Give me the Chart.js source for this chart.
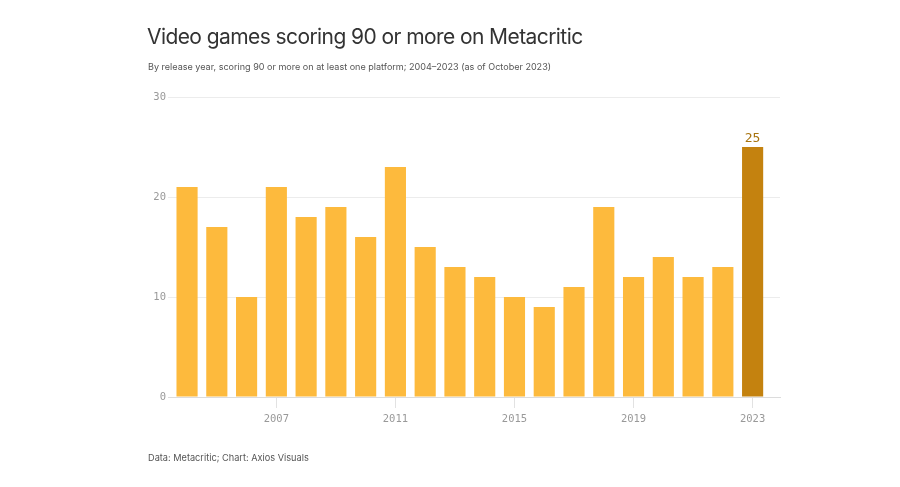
<!DOCTYPE html>
<html>
<head>
<meta charset="utf-8">
<script src="https://cdn.jsdelivr.net/npm/chart.js@4.4.0/dist/chart.umd.min.js"></script>
<style>
  html, body { margin: 0; padding: 0; background: #fff; }
  #wrap { position: relative; width: 900px; height: 487px; overflow: hidden; }
  #c { position: absolute; left: 0; top: 0; }
  .t { position: absolute; font-family: Inter, "Noto Sans", sans-serif; white-space: nowrap; }
  #title { left: 147px; top: 24px; font-size: 21px; color: #333; letter-spacing: -0.58px; }
  #sub { left: 148px; top: 61px; font-size: 9.05px; color: #555; }
  #foot { left: 148px; top: 452px; font-size: 9.2px; color: #555; }
</style>
</head>
<body>
<div id="wrap">
  <canvas id="c" width="900" height="487"></canvas>
  <div class="t" id="title">Video games scoring 90 or more on Metacritic</div>
  <div class="t" id="sub">By release year, scoring 90 or more on at least one platform; 2004–2023 (as of October 2023)</div>
  <div class="t" id="foot">Data: Metacritic; Chart: Axios Visuals</div>
</div>
<script>
const years = [2004,2005,2006,2007,2008,2009,2010,2011,2012,2013,2014,2015,2016,2017,2018,2019,2020,2021,2022,2023];
const games = [21,17,10,21,18,19,16,23,15,13,12,10,9,11,19,12,14,12,13,25];
const xTickYears = [2007,2011,2015,2019,2023];
const yTicks = [0,10,20,30];
const highlightYear = 2023;

const LIGHT = '#FDBA3D';
const DARK = '#C4820F';
const MONO = '"DejaVu Sans Mono", "Liberation Mono", monospace';

const labelPlugin = {
  id: 'hlLabel',
  afterDatasetsDraw(chart) {
    const meta = chart.getDatasetMeta(0);
    const idx = years.indexOf(highlightYear);
    const el = meta.data[idx];
    const ctx = chart.ctx;
    ctx.save();
    ctx.fillStyle = '#A8740F';
    ctx.font = '13px ' + MONO;
    ctx.textAlign = 'center';
    ctx.textBaseline = 'bottom';
    ctx.fillText(String(games[idx]), el.x, el.y - 2);
    ctx.restore();
  }
};

new Chart(document.getElementById('c'), {
  type: 'bar',
  data: {
    datasets: [{
      data: years.map((y, i) => ({ x: y, y: games[i] })),
      backgroundColor: years.map(y => y === highlightYear ? DARK : LIGHT),
      borderWidth: 0,
      categoryPercentage: 1,
      barPercentage: 0.71
    }]
  },
  options: {
    responsive: false,
    animation: false,
    devicePixelRatio: 1,
    layout: { padding: { left: 130, right: 120, top: 97, bottom: 0 } },
    plugins: { legend: { display: false }, tooltip: { enabled: false } },
    scales: {
      x: {
        type: 'linear',
        offset: false,
        min: 2003.36,
        max: 2023.92,
        afterBuildTicks(scale) { scale.ticks = xTickYears.map(v => ({ value: v })); },
        afterFit(scale) { scale.height = 90; },
        grid: { offset: false, drawOnChartArea: false, drawTicks: true, tickLength: 11, color: '#e2e2e2' },
        border: { display: true, color: '#dcdcdc' },
        ticks: {
          color: '#999',
          font: { family: MONO, size: 10.5 },
          padding: 5,
          callback: v => String(v)
        }
      },
      y: {
        min: 0,
        max: 30,
        afterBuildTicks(scale) { scale.ticks = yTicks.map(v => ({ value: v })); },
        afterFit(scale) { scale.width = 38; },
        grid: { color: ctx => ctx.tick && ctx.tick.value === 0 ? '#dcdcdc' : '#ececec', drawTicks: false },
        border: { display: false },
        ticks: {
          color: '#999',
          font: { family: MONO, size: 10.5 },
          padding: 2
        }
      }
    }
  },
  plugins: [labelPlugin]
});
</script>
</body>
</html>
